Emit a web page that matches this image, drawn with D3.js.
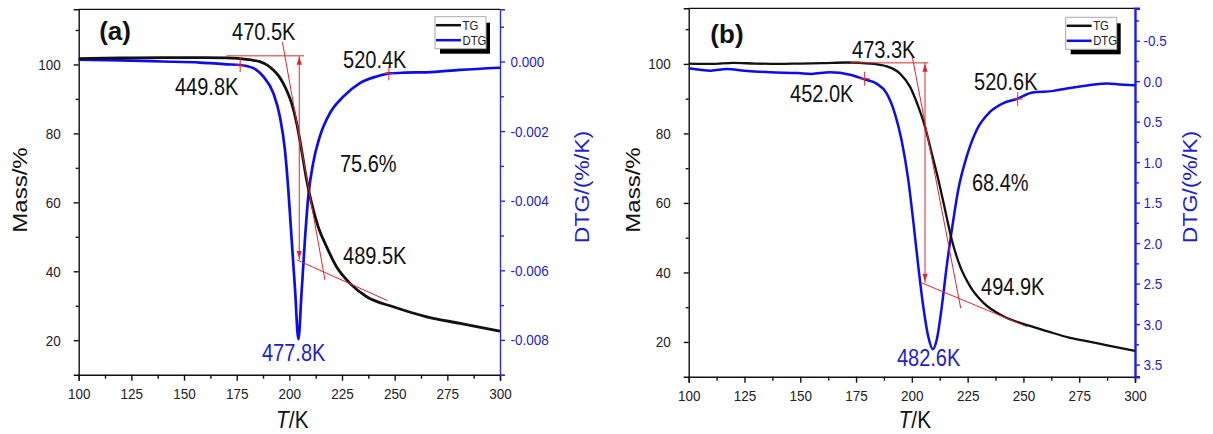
<!DOCTYPE html>
<html lang="en">
<head>
<meta charset="utf-8">
<title>TG / DTG curves</title>
<script src="https://cdn.jsdelivr.net/npm/d3@7/dist/d3.min.js"></script>
<style>
  html, body { margin: 0; padding: 0; background: #fff; }
  svg { display: block; font-family: "Liberation Sans", Arial, sans-serif; }
</style>
</head>
<body>
<svg id="chart" width="1213" height="434"></svg>
<script>
//_____________________________DATA_____________________________
// panel (a): TG mass (%) and DTG (%/K) against T
var tgA_T = [100, 120, 140, 160, 170, 176.6, 182, 186, 189.5, 192.4, 195, 197.1, 199.2, 201.1, 203.5, 205.8, 208.2, 210.6, 213.7, 217.7, 222.4, 228.8, 236.7, 249.3, 265.2, 281, 300];
var tgA_M = [101.7, 101.9, 102.0, 102.0, 101.9, 101.7, 101.3, 100.8, 99.8, 98.4, 96.6, 94.5, 91.8, 88.7, 82.9, 75.2, 66.5, 59.7, 52.9, 47.1, 41.3, 36.5, 32.6, 29.7, 26.8, 24.9, 22.6];
var dtgA_T = [100, 120, 140, 157.6, 170, 176.6, 182.9, 187.6, 192.4, 195.5, 197.9, 199.5, 201.1, 202.7, 204.3, 205.8, 207.4, 209, 211.3, 214.5, 219.3, 225.6, 233.5, 241.4, 247.7, 255, 265.2, 281, 300];
var dtgA = [0.00005, 0.00003, 0, -0.00003, -0.00008, -0.0001, -0.00019, -0.00043, -0.00091, -0.00158, -0.00254, -0.00368, -0.00512, -0.00655, -0.00798, -0.00664, -0.00512, -0.00387, -0.00292, -0.00215, -0.00148, -0.00101, -0.00062, -0.00043, -0.00034, -0.00032, -0.00031, -0.00024, -0.00018];

// panel (b)
var tgB_T = [100, 110, 120, 130, 140, 150, 160, 170.8, 181.2, 188.7, 194.7, 199.2, 202.9, 205.9, 208.9, 211.9, 214.9, 217.9, 221.6, 226.1, 232, 241, 252.9, 262, 270.9, 280, 287, 300];
var tgB_M = [100.1, 100.0, 100.3, 100.1, 100.0, 100.1, 100.2, 100.4, 100.1, 99.3, 97.2, 93.4, 87.7, 81.9, 74.3, 66.6, 58.0, 49.4, 41.8, 36.0, 31.3, 27.4, 24.6, 22.8, 21.2, 20.0, 19.1, 17.4];
var dtgB_T = [100, 110, 117, 125, 136.4, 149, 155, 163.3, 172.3, 179, 184.2, 188.7, 192.4, 195.4, 198.4, 200.6, 202.9, 205.1, 207.4, 209.4, 211.1, 213.4, 215.6, 217.9, 220.8, 224.6, 229.1, 235, 241, 247, 254, 263.4, 269.4, 276.8, 287.3, 293, 300];
var dtgB = [-0.16, -0.13, -0.15, -0.13, -0.11, -0.10, -0.09, -0.11, -0.08, -0.02, 0.03, 0.15, 0.40, 0.73, 1.22, 1.72, 2.29, 2.78, 3.16, 3.31, 3.20, 2.79, 2.29, 1.84, 1.34, 0.93, 0.60, 0.38, 0.27, 0.22, 0.14, 0.12, 0.09, 0.06, 0.03, 0.04, 0.05];

// axis ticks
var xMajor = [100, 125, 150, 175, 200, 225, 250, 275, 300];
var xMinor = [112.5, 137.5, 162.5, 187.5, 212.5, 237.5, 262.5, 287.5];
var mMajor = [20, 40, 60, 80, 100];
var mMinor = [30, 50, 70, 90, 110];
var dA_major = [0, -0.002, -0.004, -0.006, -0.008];
var dA_minor = [0.001, -0.001, -0.003, -0.005, -0.007, -0.009];
var dB_major = [-0.5, 0, 0.5, 1.0, 1.5, 2.0, 2.5, 3.0, 3.5];
var dB_minor = [-0.75, -0.25, 0.25, 0.75, 1.25, 1.75, 2.25, 2.75, 3.25];

// tangent construction (T, mass) and marks on DTG (T, dtg)
var markA = { hT: [170.2, 207.0], hM: 102.5, arrowT: 204.7, arrowM: [102.5, 43.3],
              tan: [[196.7, 106.5], [216.9, 37.5]], base: [[203.6, 43.3], [246.6, 31.5]],
              cross: [[176.65, -0.0001], [247.25, -0.00034]] };
var markB = { hT: [172.3, 207.4], hM: 100.3, arrowT: 205.9, arrowM: [100.3, 37.0],
              tan: [[199.9, 103.0], [221.9, 29.7]], base: [[204.4, 37.0], [251.5, 24.4]],
              cross: [[178.85, -0.03], [247.45, 0.22]] };

// annotation labels: text, T, mass
var labA = [["470.5K", 172.8, 107.0], ["449.8K", 145.7, 91.1], ["520.4K", 225.5, 99.0],
            ["75.6%", 224.0, 68.8], ["489.5K", 225.5, 42.1]];
var peakA = ["477.8K", 187.0, 14.0];
var labB = [["473.3K", 173.2, 101.7], ["452.0K", 145.4, 88.9], ["520.6K", 227.9, 92.5],
            ["68.4%", 226.9, 63.4], ["494.9K", 231.0, 33.5]];
var peakB = ["482.6K", 193.3, 13.1];

//_____________________________SETUP_____________________________
var SX = 0.87;          // the source figure is squeezed horizontally
var RED = "#e3262b", BLUE = "#0c0cf0", BLUETXT = "#1e1ed0";
var svg = d3.select("#chart");

function hyph(f) { return function (d) { return f(d).replace("\u2212", "-"); }; }

function squeeze(sel) {
  sel.selectAll(".tick text").each(function () {
    var t = d3.select(this);
    t.attr("x", (+t.attr("x") || 0) / SX).attr("transform", "scale(" + SX + ",1)");
  });
}

function styleAxis(sel, col, w) {
  sel.select(".domain").attr("stroke", col).attr("stroke-width", w);
  sel.selectAll(".tick line").attr("stroke", col).attr("stroke-width", w);
  sel.selectAll(".tick text").attr("fill", col === "#111" ? "#222" : BLUETXT)
     .attr("font-size", 15.5).attr("font-family", "Liberation Sans, Arial, sans-serif");
}

var panels = [
  { name: "(a)", x0: 78.7, x1: 500, y0: 9.3, y1: 374.7,
    tg: d3.zip(tgA_T, tgA_M), dtg: d3.zip(dtgA_T, dtgA),
    dDomain: [-0.009, 0.0015], dMajor: dA_major, dMinor: dA_minor, dFmt: hyph(d3.format(".3f")),
    rCol: "#2a2ae0", rW: 1.4, rPad: 5.5, mark: markA, labs: labA, peak: peakA,
    tgW: 2.8, dW: 2.7, massX: 27, dtgX: 589, legX: 435, legY: 16.7 },
  { name: "(b)", x0: 688.7, x1: 1135, y0: 8.3, y1: 376.7,
    tg: d3.zip(tgB_T, tgB_M), dtg: d3.zip(dtgB_T, dtgB),
    dDomain: [3.65, -0.9], dMajor: dB_major, dMinor: dB_minor, dFmt: hyph(d3.format(".1f")),
    rCol: "#1a1aff", rW: 2.4, rPad: 3.5, mark: markB, labs: labB, peak: peakB,
    tgW: 2.3, dW: 2.5, massX: 640, dtgX: 1197, legX: 1065.7, legY: 17.3 }
];

function text(g, x, y, str, size, opts) {
  opts = opts || {};
  var t = g.append("text")
    .attr("transform", "translate(" + x + "," + y + ")" + (opts.rot ? " rotate(-90) scale(1," + SX + ")" : " scale(" + (opts.sx || SX) + ",1)"))
    .attr("font-size", size)
    .attr("fill", opts.fill || "#111")
    .attr("text-anchor", opts.anchor || "start")
    .attr("font-weight", opts.bold ? "bold" : null);
  t.text(str);
  return t;
}

//_____________________________DRAW_____________________________
panels.forEach(function (p) {
  var g = svg.append("g");
  var x = d3.scaleLinear().domain([100, 300]).range([p.x0, p.x1]);
  var yM = d3.scaleLinear().domain([10, 116]).range([p.y1, p.y0]);
  var yD = d3.scaleLinear().domain(p.dDomain).range([p.y1, p.y0]);

  // top frame
  g.append("line").attr("x1", p.x0).attr("x2", p.x1).attr("y1", p.y0).attr("y2", p.y0)
    .attr("stroke", "#111").attr("stroke-width", 1.2);

  // bottom axis
  var bx = g.append("g").attr("transform", "translate(0," + p.y1 + ")")
    .call(d3.axisBottom(x).tickValues(xMajor).tickSize(6).tickPadding(7).tickFormat(d3.format("d")));
  styleAxis(bx, "#111", 1.4); squeeze(bx);
  var bxm = g.append("g").attr("transform", "translate(0," + p.y1 + ")")
    .call(d3.axisBottom(x).tickValues(xMinor).tickSize(4).tickFormat(""));
  bxm.select(".domain").remove(); styleAxis(bxm, "#111", 1.4);

  // left axis
  var ly = g.append("g").attr("transform", "translate(" + p.x0 + ",0)")
    .call(d3.axisLeft(yM).tickValues(mMajor).tickSize(5).tickPadding(13).tickFormat(d3.format("d")));
  styleAxis(ly, "#111", 1.4); squeeze(ly);
  var lym = g.append("g").attr("transform", "translate(" + p.x0 + ",0)")
    .call(d3.axisLeft(yM).tickValues(mMinor).tickSize(3).tickFormat(""));
  lym.select(".domain").remove(); styleAxis(lym, "#111", 1.4);

  // right DTG axis
  var ry = g.append("g").attr("transform", "translate(" + p.x1 + ",0)")
    .call(d3.axisRight(yD).tickValues(p.dMajor).tickSize(5).tickPadding(p.rPad).tickFormat(p.dFmt));
  styleAxis(ry, p.rCol, p.rW); squeeze(ry);
  ry.selectAll(".tick line").attr("stroke-width", 1.4);
  var rym = g.append("g").attr("transform", "translate(" + p.x1 + ",0)")
    .call(d3.axisRight(yD).tickValues(p.dMinor).tickSize(4).tickFormat(""));
  rym.select(".domain").remove(); styleAxis(rym, p.rCol, 1.4);

  // curves
  var lineTG = d3.line().x(function (d) { return x(d[0]); }).y(function (d) { return yM(d[1]); }).curve(d3.curveMonotoneX);
  var lineD = d3.line().x(function (d) { return x(d[0]); }).y(function (d) { return yD(d[1]); }).curve(d3.curveMonotoneX);
  g.append("path").datum(p.dtg).attr("d", lineD).attr("fill", "none")
    .attr("stroke", BLUE).attr("stroke-width", p.dW).attr("stroke-linejoin", "round");
  g.append("path").datum(p.tg).attr("d", lineTG).attr("fill", "none")
    .attr("stroke", "#111").attr("stroke-width", p.tgW).attr("stroke-linejoin", "round");

  // tangent construction
  var m = p.mark, red = g.append("g").attr("stroke", RED).attr("stroke-width", 1).attr("fill", "none");
  red.append("line").attr("x1", x(m.hT[0])).attr("x2", x(m.hT[1])).attr("y1", yM(m.hM)).attr("y2", yM(m.hM));
  red.append("line").attr("x1", x(m.arrowT)).attr("x2", x(m.arrowT)).attr("y1", yM(m.arrowM[0])).attr("y2", yM(m.arrowM[1]));
  [m.tan, m.base].forEach(function (s) {
    red.append("line").attr("x1", x(s[0][0])).attr("y1", yM(s[0][1])).attr("x2", x(s[1][0])).attr("y2", yM(s[1][1]));
  });
  var ax = x(m.arrowT), aTop = yM(m.arrowM[0]), aBot = yM(m.arrowM[1]);
  g.append("path").attr("fill", RED)
    .attr("d", "M" + ax + "," + (aTop + 1) + "l-2.6,8h5.2z M" + ax + "," + (aBot - 1) + "l-2.6,-8h5.2z");
  m.cross.forEach(function (c) {
    var cx = x(c[0]), cy = yD(c[1]);
    red.append("path").attr("d", "M" + (cx - 5) + "," + cy + "h10 M" + cx + "," + (cy - 7) + "v14");
  });

  // labels
  text(g, x(109.7), yM(p.name === "(a)" ? 107.0 : 106.0), p.name, 26, { bold: true, sx: 1 });
  p.labs.forEach(function (l) { text(g, x(l[1]), yM(l[2]), l[0], 23); });
  text(g, x(p.peak[1]), yM(p.peak[2]), p.peak[0], 23, { fill: BLUETXT });

  // axis titles
  text(g, p.massX, 190, "Mass/%", 24, { rot: true, anchor: "middle" });
  text(g, p.dtgX, 187, "DTG/(%/K)", 23, { rot: true, anchor: "middle", fill: BLUETXT });
  var tk = text(g, (p.x0 + p.x1) / 2 + 3, 428, "", 24, { anchor: "middle" });
  tk.append("tspan").attr("font-style", "italic").text("T");
  tk.append("tspan").text("/K");

  // legend
  var lg = g.append("g").attr("transform", "translate(" + p.legX + "," + p.legY + ")");
  lg.append("rect").attr("x", 5).attr("y", 6).attr("width", 50).attr("height", 31).attr("fill", "#000");
  lg.append("rect").attr("x", 0).attr("y", 0).attr("width", 51).attr("height", 32)
    .attr("fill", "#fff").attr("stroke", "#aaa").attr("stroke-width", 1);
  [["TG", "#111", 8.5], ["DTG", BLUE, 23.5]].forEach(function (e) {
    lg.append("line").attr("x1", 1).attr("x2", 26).attr("y1", e[2]).attr("y2", e[2])
      .attr("stroke", e[1]).attr("stroke-width", 2.5);
    text(lg, 27.5, e[2] + 4.5, e[0], 13, { fill: "#222" });
  });
});
</script>
</body>
</html>
